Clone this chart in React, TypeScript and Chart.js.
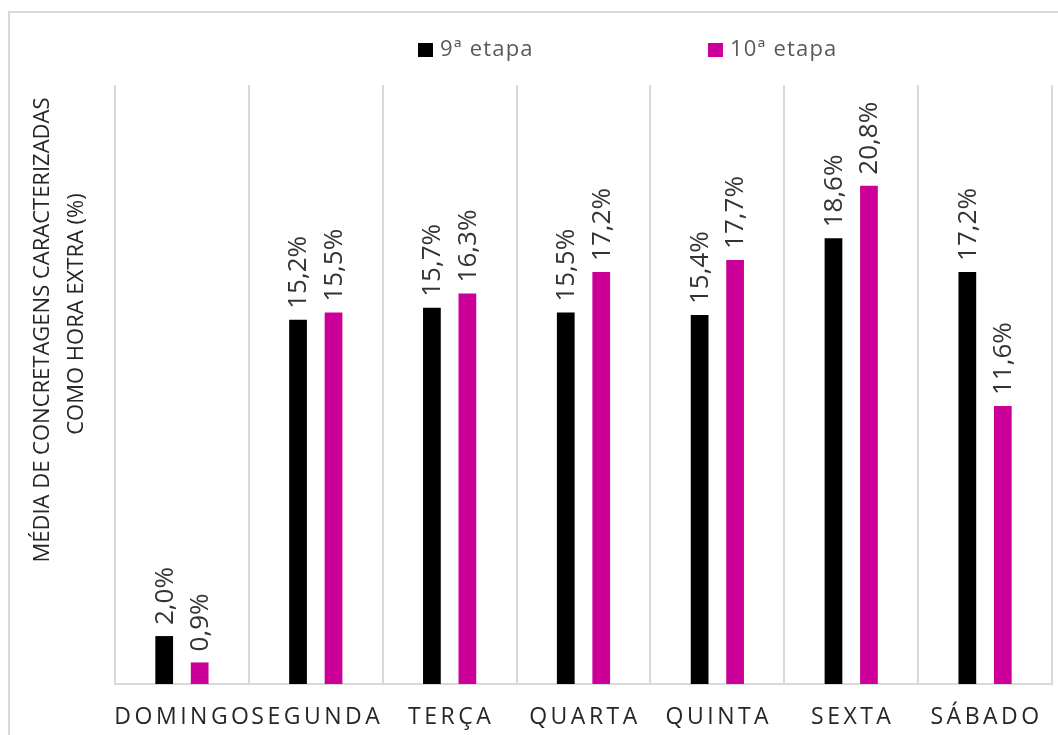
import React, { useEffect, useRef } from "react";
import { Chart, registerables } from "chart.js";

Chart.register(...registerables);

const categories = ["DOMINGO", "SEGUNDA", "TERÇA", "QUARTA", "QUINTA", "SEXTA", "SÁBADO"];
const etapa9 = [2.0, 15.2, 15.7, 15.5, 15.4, 18.6, 17.2];
const etapa10 = [0.9, 15.5, 16.3, 17.2, 17.7, 20.8, 11.6];
const seriesNames = ["9ª etapa", "10ª etapa"];
const seriesColors = ["#000000", "#cc0099"];
const yTitleLines = ["MÉDIA DE CONCRETAGENS CARACTERIZADAS", "COMO HORA EXTRA (%)"];

const FONT = "'Open Sans', 'DejaVu Sans', sans-serif";

const fmt = (v: number) => v.toFixed(1).replace(".", ",") + "%";

const decorations = {
  id: "decorations",
  afterDatasetsDraw(chart: any) {
    const ctx = chart.ctx;
    ctx.save();
    ctx.font = `26px ${FONT}`;
    ctx.fillStyle = "#333333";
    ctx.textAlign = "left";
    ctx.textBaseline = "middle";
    chart.data.datasets.forEach((ds: any, di: number) => {
      const meta = chart.getDatasetMeta(di);
      meta.data.forEach((bar: any, i: number) => {
        ctx.save();
        ctx.translate(bar.x + 1, bar.y - 11);
        ctx.rotate(-Math.PI / 2);
        ctx.fillText(fmt(ds.data[i]), 0, 0);
        ctx.restore();
      });
    });
    ctx.restore();
  },
  afterDraw(chart: any) {
    const ctx = chart.ctx;
    const xs = chart.scales.x;
    const area = chart.chartArea;

    // category labels, letter-spaced
    ctx.save();
    ctx.font = `23px ${FONT}`;
    ctx.fillStyle = "#262626";
    ctx.textAlign = "center";
    ctx.textBaseline = "middle";
    (ctx as any).letterSpacing = "3.5px";
    categories.forEach((c, i) => {
      ctx.fillText(c, xs.getPixelForValue(i) + 1.5, area.bottom + 33);
    });
    ctx.restore();

    // legend
    ctx.save();
    ctx.font = `22px ${FONT}`;
    ctx.textAlign = "left";
    ctx.textBaseline = "middle";
    (ctx as any).letterSpacing = "1.2px";
    const legendX = [408, 698];
    seriesNames.forEach((name, i) => {
      ctx.fillStyle = seriesColors[i];
      ctx.fillRect(legendX[i], 30, 15, 14);
      ctx.fillStyle = "#595959";
      ctx.fillText(name, legendX[i] + 22, 37);
    });
    ctx.restore();

    // rotated y-axis title
    ctx.save();
    ctx.font = `22px ${FONT}`;
    ctx.fillStyle = "#262626";
    ctx.textAlign = "center";
    ctx.textBaseline = "middle";
    const titleX = [33, 67];
    const titleY = [317, 301];
    yTitleLines.forEach((line, i) => {
      ctx.save();
      ctx.translate(titleX[i], titleY[i]);
      ctx.rotate(-Math.PI / 2);
      ctx.fillText(line, 0, 0);
      ctx.restore();
    });
    ctx.restore();
  },
};

export default function App() {
  const ref = useRef<HTMLCanvasElement | null>(null);

  useEffect(() => {
    if (!ref.current) return;
    const chart = new Chart(ref.current, {
      type: "bar",
      data: {
        labels: categories,
        datasets: [
          {
            label: seriesNames[0],
            data: etapa9,
            backgroundColor: seriesColors[0],
            categoryPercentage: 0.53,
            barPercentage: 0.5,
          },
          {
            label: seriesNames[1],
            data: etapa10,
            backgroundColor: seriesColors[1],
            categoryPercentage: 0.53,
            barPercentage: 0.5,
          },
        ],
      },
      options: {
        responsive: false,
        animation: false,
        layout: { padding: { left: 105, right: 6, top: 72, bottom: 51 } },
        plugins: {
          legend: { display: false },
          tooltip: { enabled: false },
          title: { display: false },
        },
        scales: {
          x: {
            grid: {
              display: true,
              color: "#d9d9d9",
              lineWidth: 2,
              drawTicks: false,
              offset: true,
            },
            border: { display: true, color: "#d9d9d9", width: 2 },
            ticks: { display: false },
            afterFit: (s: any) => {
              s.height = 0;
            },
          },
          y: {
            display: false,
            min: 0,
            max: 25,
          },
        },
      },
      plugins: [decorations],
    });
    return () => chart.destroy();
  }, []);

  return (
    <div
      style={{
        position: "absolute",
        left: 8,
        top: 11,
        width: 1050,
        height: 724,
        borderTop: "2px solid #d9d9d9",
        borderLeft: "2px solid #d9d9d9",
        boxSizing: "border-box",
        background: "#fff",
      }}
    >
      <canvas ref={ref} width={1048} height={722} style={{ display: "block" }} />
    </div>
  );
}
